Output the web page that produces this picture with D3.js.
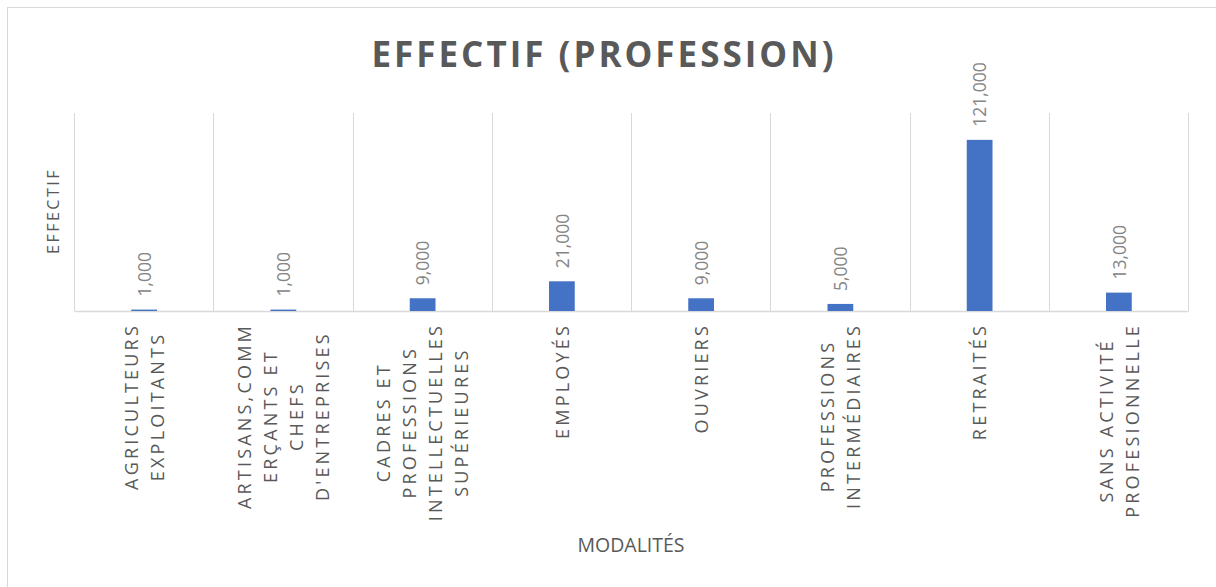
<!DOCTYPE html>
<html>
<head>
<meta charset="utf-8">
<script src="https://cdn.jsdelivr.net/npm/d3@7"></script>
<style>
  body { margin: 0; background: #fff; }
  svg { display: block; font-family: "Open Sans", sans-serif; }
</style>
</head>
<body>
<div id="chart"></div>
<script>
// données
const categories = [
    "AGRICULTEURS EXPLOITANTS",
    "ARTISANS,COMMERÇANTS ET CHEFS D'ENTREPRISES",
    "CADRES ET PROFESSIONS INTELLECTUELLES SUPÉRIEURES",
    "EMPLOYÉS",
    "OUVRIERS",
    "PROFESSIONS INTERMÉDIAIRES",
    "RETRAITÉS",
    "SANS ACTIVITÉ PROFESIONNELLE"
];
const effectifs = [1000, 1000, 9000, 21000, 9000, 5000, 121000, 13000];
// libellés découpés comme dans Excel
const tickLines = [
    ["AGRICULTEURS", "EXPLOITANTS"],
    ["ARTISANS,COMM", "ERÇANTS ET", "CHEFS", "D'ENTREPRISES"],
    ["CADRES ET", "PROFESSIONS", "INTELLECTUELLES", "SUPÉRIEURES"],
    ["EMPLOYÉS"],
    ["OUVRIERS"],
    ["PROFESSIONS", "INTERMÉDIAIRES"],
    ["RETRAITÉS"],
    ["SANS ACTIVITÉ", "PROFESIONNELLE"]
];
const yMax = 140000;

const W = 1216, H = 587;
const margin = {top: 113, right: 28, bottom: 276, left: 74};
const width = W - margin.left - margin.right;
const height = H - margin.top - margin.bottom;

const svg = d3.select("#chart").append("svg")
    .attr("width", W)
    .attr("height", H);

// cadre du graphique (bords droit et bas hors image)
svg.append("rect")
    .attr("x", 7.5).attr("y", 7.5)
    .attr("width", W + 50).attr("height", H + 50)
    .attr("fill", "#fff")
    .attr("stroke", "#d9d9d9")
    .attr("stroke-width", 1);

const g = svg.append("g")
    .attr("transform", `translate(${margin.left},${margin.top})`);

// échelles
const x = d3.scaleBand()
    .domain(categories)
    .range([0, width])
    .padding(0);

const y = d3.scaleLinear()
    .domain([0, yMax])
    .range([height, 0]);

// quadrillage vertical entre les catégories
const bounds = categories.map(c => x(c)).concat([x.range()[1]]);
g.selectAll(".grid")
    .data(bounds)
    .enter()
    .append("line")
    .attr("class", "grid")
    .attr("x1", d => Math.round(d) + 0.5)
    .attr("x2", d => Math.round(d) + 0.5)
    .attr("y1", 0)
    .attr("y2", height)
    .attr("stroke", "#d9d9d9")
    .attr("stroke-width", 1);

// axe x (ligne seulement)
const xAxis = g.append("g")
    .attr("transform", `translate(0,${height})`)
    .call(d3.axisBottom(x).tickSize(0).tickFormat(""));
xAxis.select(".domain").attr("stroke", "#d9d9d9").attr("stroke-width", 1.5);

// barres
const barW = x.bandwidth() * 0.185;
g.selectAll(".bar")
    .data(effectifs)
    .enter()
    .append("rect")
    .attr("class", "bar")
    .attr("x", (d, i) => x(categories[i]) + x.bandwidth() / 2 - barW / 2 + 0.5)
    .attr("y", d => y(d))
    .attr("width", barW)
    .attr("height", d => height - y(d))
    .attr("fill", "#4472C4");

// étiquettes de données (verticales)
g.selectAll(".label")
    .data(effectifs)
    .enter()
    .append("text")
    .attr("class", "label")
    .attr("transform", (d, i) =>
        `translate(${x(categories[i]) + x.bandwidth() / 2 + 1},${y(d) - 13}) rotate(-90)`)
    .attr("dy", "0.35em")
    .attr("text-anchor", "start")
    .attr("fill", "#858585")
    .style("font-size", "17.5px")
    .text(d => d3.format(",")(d));

// libellés de catégories (verticaux, lignes centrées)
const lineGap = 26;
const tickG = g.selectAll(".tick-label")
    .data(tickLines)
    .enter()
    .append("g")
    .attr("class", "tick-label");

tickG.each(function(lines, i) {
    const grp = d3.select(this);
    const cx = x(categories[i]) + x.bandwidth() / 2 + 1;
    const texts = grp.selectAll("text")
        .data(lines)
        .enter()
        .append("text")
        .attr("text-anchor", "middle")
        .attr("dy", "0.35em")
        .attr("fill", "#595959")
        .style("font-size", "18px")
        .style("letter-spacing", "3.2px")
        .text(d => d);
    const maxLen = d3.max(texts.nodes(), n => n.getComputedTextLength());
    const cy = height + 12 + maxLen / 2;
    texts.attr("transform", (d, j) =>
        `translate(${cx + (j - (lines.length - 1) / 2) * lineGap},${cy}) rotate(-90)`);
});

// titre
svg.append("text")
    .attr("x", 604)
    .attr("y", 67)
    .attr("text-anchor", "middle")
    .attr("fill", "#595959")
    .style("font-size", "35px")
    .style("font-weight", "bold")
    .style("letter-spacing", "3px")
    .text("EFFECTIF (PROFESSION)");

// titre axe y
svg.append("text")
    .attr("transform", "translate(53,211) rotate(-90)")
    .attr("dy", "0.35em")
    .attr("text-anchor", "middle")
    .attr("fill", "#595959")
    .style("font-size", "16px")
    .style("letter-spacing", "2.5px")
    .text("EFFECTIF");

// titre axe x
svg.append("text")
    .attr("x", 631)
    .attr("y", 552)
    .attr("text-anchor", "middle")
    .attr("fill", "#595959")
    .style("font-size", "19.5px")
    .text("MODALITÉS");
</script>
</body>
</html>
